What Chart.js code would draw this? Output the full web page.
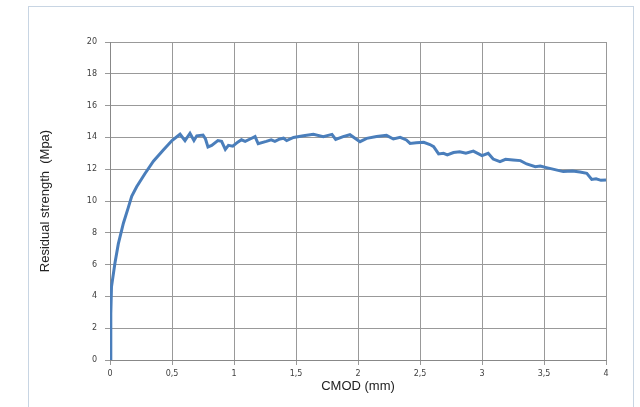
<!DOCTYPE html>
<html lang="en">
<head>
    <meta charset="UTF-8">
    <title>Residual strength vs CMOD</title>
    <script src="https://cdn.jsdelivr.net/npm/chart.js"></script>
    <style>
        body, html {
            margin: 0;
            padding: 0;
            width: 640px;
            height: 407px;
            overflow: hidden;
            background: #fff;
        }
        #frame {
            position: absolute;
            left: 28px;
            top: 6px;
            width: 604px;
            height: 420px;
            border: 1px solid #c8d5e3;
        }
        #wrap {
            position: absolute;
            left: 0;
            top: 0;
            width: 640px;
            height: 407px;
        }
    </style>
</head>
<body>
    <div id="frame"></div>
    <div id="wrap"><canvas id="residualChart"></canvas></div>

    <script>
        // CMOD (mm) and residual strength (MPa)
        const cmod = [
            0, 0.005, 0.008, 0.012, 0.04, 0.067, 0.108, 0.148, 0.175, 0.215,
            0.28, 0.35, 0.43, 0.5, 0.565, 0.605, 0.645, 0.677, 0.70, 0.75,
            0.77, 0.79, 0.82, 0.87, 0.90, 0.93, 0.955, 0.99, 1.03, 1.06, 1.09,
            1.13, 1.17, 1.195, 1.26, 1.30, 1.33, 1.37, 1.40, 1.425, 1.48, 1.56, 1.64, 1.72,
            1.79, 1.82, 1.88, 1.935, 2.016, 2.07, 2.15, 2.23, 2.285, 2.34, 2.39, 2.42,
            2.47, 2.53, 2.58, 2.61, 2.65, 2.69, 2.72, 2.77, 2.82, 2.87, 2.93, 3.0, 3.05,
            3.09, 3.145, 3.19, 3.25, 3.31, 3.36, 3.43, 3.47, 3.52, 3.58, 3.655, 3.73,
            3.79, 3.845, 3.885, 3.92, 3.96, 4.0
        ];
        const strength = [
            0, 2.7, 2.9, 4.6, 6.1, 7.3, 8.6, 9.6, 10.3, 10.9,
            11.7, 12.5, 13.2, 13.8, 14.2, 13.8, 14.26, 13.8, 14.1, 14.15,
            13.9, 13.4, 13.5, 13.8, 13.75, 13.25, 13.5, 13.45, 13.7, 13.85, 13.75,
            13.9, 14.05, 13.6, 13.75, 13.85, 13.75, 13.9, 13.95, 13.8, 14.0, 14.1, 14.2, 14.05,
            14.19, 13.87, 14.05, 14.17, 13.73, 13.94, 14.05, 14.13, 13.9, 14.0, 13.84, 13.62,
            13.67, 13.69, 13.55, 13.42, 12.96, 13.0, 12.9, 13.05, 13.1, 13.0, 13.14, 12.85, 13.0,
            12.64, 12.47, 12.62, 12.58, 12.54, 12.33, 12.16, 12.2, 12.1, 11.99, 11.85, 11.89,
            11.82, 11.74, 11.36, 11.4, 11.3, 11.32
        ];
        const xTicks = [0, 0.5, 1, 1.5, 2, 2.5, 3, 3.5, 4];
        const yTicks = [0, 2, 4, 6, 8, 10, 12, 14, 16, 18, 20];

        const points = cmod.map((x, i) => ({ x: x, y: strength[i] }));

        const ctx = document.getElementById('residualChart').getContext('2d');
        new Chart(ctx, {
            type: 'scatter',
            data: {
                datasets: [{
                    data: points,
                    showLine: true,
                    borderColor: '#4a7ebb',
                    borderWidth: 3,
                    pointRadius: 0,
                    tension: 0,
                    fill: false
                }]
            },
            options: {
                responsive: true,
                maintainAspectRatio: false,
                animation: false,
                layout: {
                    padding: { left: 30, right: 34, top: 42, bottom: 13 }
                },
                plugins: {
                    legend: { display: false },
                    tooltip: { enabled: false }
                },
                scales: {
                    x: {
                        type: 'linear',
                        min: 0,
                        max: 4,
                        afterBuildTicks: axis => {
                            axis.ticks = xTicks.map(v => ({ value: v }));
                        },
                        afterFit: axis => { axis.height = 34; },
                        grid: {
                            color: '#999999',
                            lineWidth: 1,
                            tickLength: 5
                        },
                        border: { color: '#888888' },
                        ticks: {
                            padding: 4,
                            color: '#404040',
                            maxRotation: 0,
                            font: { family: 'DejaVu Sans', size: 8 },
                            callback: v => String(v).replace('.', ',')
                        },
                        title: {
                            display: true,
                            text: 'CMOD (mm)',
                            color: '#222',
                            padding: { top: 2, bottom: 0 },
                            font: { family: 'Liberation Sans', size: 13 }
                        }
                    },
                    y: {
                        min: 0,
                        max: 20,
                        afterBuildTicks: axis => {
                            axis.ticks = yTicks.map(v => ({ value: v }));
                        },
                        afterFit: axis => { axis.width = 80; },
                        grid: {
                            color: '#999999',
                            lineWidth: 1,
                            tickLength: 5
                        },
                        border: { color: '#888888' },
                        ticks: {
                            padding: 8,
                            color: '#404040',
                            font: { family: 'DejaVu Sans', size: 8 }
                        },
                        title: {
                            display: true,
                            text: 'Residual strength  (Mpa)',
                            color: '#222',
                            padding: { top: 8, bottom: 0 },
                            font: { family: 'Liberation Sans', size: 13 }
                        }
                    }
                }
            }
        });
    </script>
</body>
</html>
